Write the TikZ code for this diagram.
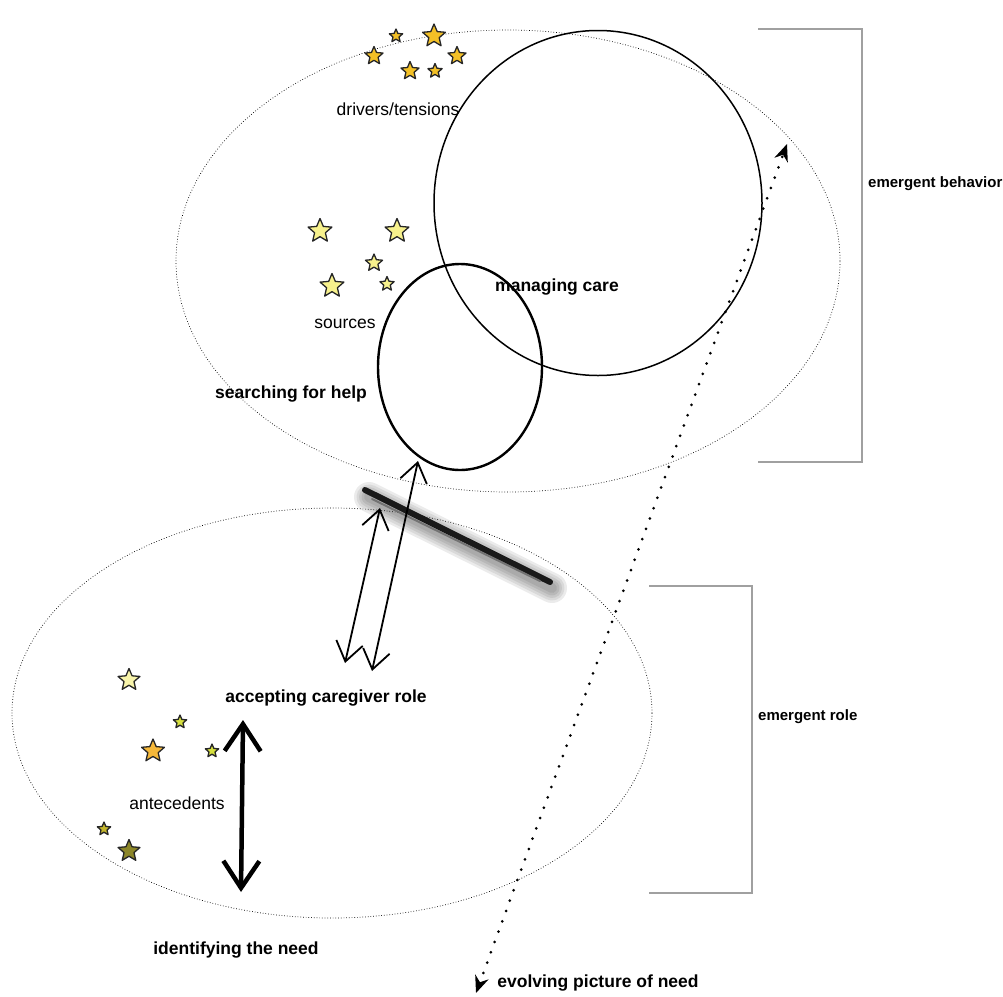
\documentclass[tikz,border=0pt]{standalone}
\usepackage{fontspec}
\setmainfont{Liberation Sans}
\usetikzlibrary{shapes, arrows.meta, positioning, calc}
\definecolor{gold1}{RGB}{243, 192, 38}
\definecolor{pale1}{RGB}{247, 241, 140}
\definecolor{pale2}{RGB}{248, 244, 170}
\definecolor{lime1}{RGB}{214, 224, 62}
\definecolor{orange1}{RGB}{245, 184, 58}
\definecolor{olive1}{RGB}{196, 182, 44}
\definecolor{olive2}{RGB}{140, 134, 40}
\definecolor{bracket1}{RGB}{160, 160, 160}
\tikzset{
  lbl/.style={font=\fontsize{17.5}{20}\selectfont, inner sep=1pt},
  blbl/.style={font=\fontsize{17.5}{20}\selectfont\bfseries, inner sep=1pt},
  slbl/.style={font=\fontsize{15}{18}\selectfont\bfseries, inner sep=1pt},
  zone/.style={ellipse, draw, dotted, line width=0.7pt, inner sep=0pt},
  ring/.style={ellipse, draw, line width=1.5pt, inner sep=0pt},
  starry/.style={star, star points=5, star point ratio=2.2, draw=black!85, line width=1.3pt, line join=round, inner sep=0pt},
  sketch/.style={line width=1.8pt, {Straight Barb[length=19pt, width=27pt]}-{Straight Barb[length=19pt, width=27pt]}},
  bigarrow/.style={line width=4.5pt, {Straight Barb[length=27pt, width=36pt]}-{Straight Barb[length=27pt, width=36pt]}},
  evolve/.style={line width=3pt, line cap=round, dash pattern=on 0pt off 11pt, {Stealth[length=17pt, width=14pt]}-{Stealth[length=17pt, width=14pt]}},
  bracket/.style={draw=bracket1, line width=1.2pt}
}

\begin{document}
\begin{tikzpicture}[x=1pt, y=-1pt]
  \useasboundingbox (0,0) rectangle (1003,996);

  % the two phases
  \node[zone, minimum width=664pt, minimum height=462pt] (upper) at (508,261) {};
  \node[zone, minimum width=640pt, minimum height=410pt] (lower) at (332,713) {};

  % circles of the upper phase
  \node[ring, minimum width=328pt, minimum height=345pt] (manage) at (598,203) {};
  \node[ring, line width=2.4pt, minimum width=164pt, minimum height=206pt] (search) at (460,367) {};

  % stars
  \foreach \x/\y/\s [count=\i] in {374/56/19, 396/36/14, 434/36/24, 457/56/19, 410/71/19, 435/71/15}
    \node[starry, fill=gold1, minimum size=\s pt] (drv\i) at (\x,\y) {};
  \foreach \x/\y/\s [count=\i] in {320/231/25, 397/231/25, 374/263/18, 387/284/15, 332/286/25}
    \node[starry, fill=pale1, minimum size=\s pt] (src\i) at (\x,\y) {};
  \foreach \x/\y/\s/\c [count=\i] in {129/680/23/pale2, 180/722/14/lime1, 153/751/24/orange1, 212/751/14/lime1, 104/829/14/olive1, 129/851/23/olive2}
    \node[starry, fill=\c, minimum size=\s pt] (ant\i) at (\x,\y) {};

  % labels
  \node[lbl] (drivers) at (398,109) {drivers/tensions};
  \node[lbl] (sources) at (345,324) {sources};
  \node[blbl] (managing) at (557,287) {managing care};
  \node[blbl] (searching) at (291,394) {searching for help};
  \node[blbl] (accepting) at (326,698) {accepting caregiver role};
  \node[lbl] (antecedents) at (177,803) {antecedents};
  \node[blbl] (identifying) at (236,950) {identifying the need};
  \node[blbl] (evolving) at (598,983) {evolving picture of need};

  % brackets
  \coordinate (b1top) at (862,29);
  \coordinate (b1bot) at (862,462);
  \draw[bracket] (758,29) -- (b1top) -- (b1bot) -- (758,462);
  \node[slbl, anchor=west] (behavior) at ($(b1top)!0.357!(b1bot)+(5,0)$) {emergent behavior};
  \coordinate (b2top) at (752,586);
  \coordinate (b2bot) at (752,893);
  \draw[bracket] (649,586) -- (b2top) -- (b2bot) -- (649,893);
  \node[slbl, anchor=west] (role) at ($(b2top)!0.424!(b2bot)+(5,0)$) {emergent role};

  % threshold smear
  \foreach \w in {30,25,20,15,10}
    \draw[line width=\w pt, line cap=round, black, opacity=0.08] (369,497) -- (552,588);
  \draw[line width=6pt, line cap=round, black!90] (365,490) -- (550,582);
  \draw[line width=2pt, line cap=round, black!55] (372,499) -- (540,581);

  % arrows between the phases
  \coordinate (a1top) at (380,508);
  \coordinate (a1bot) at (345,663);
  \coordinate (a2top) at (418,461);
  \coordinate (a2bot) at (372,671);
  \draw[sketch] (a1bot) -- (a1top);
  \draw[sketch] (a2bot) -- (a2top);

  \coordinate (needtop) at (243,720);
  \coordinate (needbot) at (241,892);
  \draw[bigarrow] (needtop) -- (needbot);

  % evolving picture of need
  \coordinate (evstart) at (476,993);
  \coordinate (evend) at (787,144);
  \draw[evolve] (evstart) -- (evend);
\end{tikzpicture}
\end{document}
